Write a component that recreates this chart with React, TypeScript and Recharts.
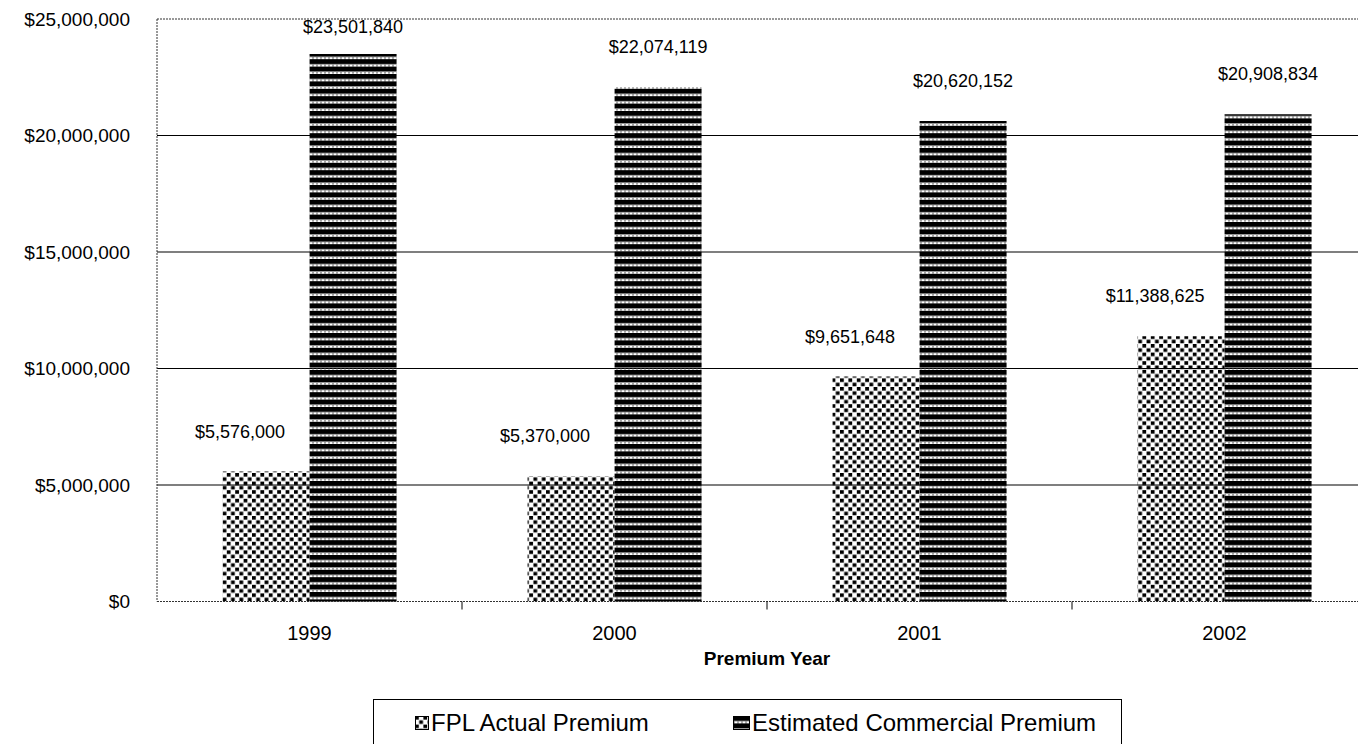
import React from "react";
import {
    BarChart,
    Bar,
    XAxis,
    YAxis,
    Legend,
    LabelList,
    ReferenceLine,
    CartesianGrid
} from "recharts";

const YEARS = ["1999", "2000", "2001", "2002"];
const FPL_ACTUAL = [5576000, 5370000, 9651648, 11388625];
const EST_COMMERCIAL = [23501840, 22074119, 20620152, 20908834];
const Y_TICKS = [0, 5000000, 10000000, 15000000, 20000000, 25000000];
const GRID_VALUES = [5000000, 10000000, 15000000, 20000000];
const Y_MAX = 25000000;

const data = YEARS.map((year, i) => ({
    year,
    fpl: FPL_ACTUAL[i],
    commercial: EST_COMMERCIAL[i]
}));

const FONT = '"Liberation Sans", Arial, Helvetica, sans-serif';
const CHART_W = 1400;
const CHART_H = 760;
const MARGIN = { top: 19, right: 23, bottom: 0, left: 0 };
const Y_AXIS_W = 157;
const PLOT_H = 582.5;
const CAT_W = (CHART_W - MARGIN.left - MARGIN.right - Y_AXIS_W) / YEARS.length;

const money = (v: number) => "$" + v.toLocaleString("en-US");

const YearTick = (props: any) => {
    const { x, y, payload, index } = props;
    return (
        <g>
            {index < YEARS.length - 1 && (
                <line x1={x + CAT_W / 2} x2={x + CAT_W / 2} y1={y - 8} y2={y} stroke="#000" strokeWidth={1} />
            )}
            <text x={x} y={y + 30} textAnchor="middle" fontSize={20} fontFamily={FONT} fill="#000">
                {payload.value}
            </text>
        </g>
    );
};

// labels were dragged around in the original, keep them offset from the bar
const makeLabel = (dx: number, dy: number, minY: number) => (props: any) => {
    const { x, y, width, value } = props;
    return (
        <text
            x={x + width / 2 + dx}
            y={Math.max(y + dy, minY)}
            textAnchor="middle"
            dominantBaseline="central"
            fontSize={18}
            fontFamily={FONT}
            fill="#000"
        >
            {money(value)}
        </text>
    );
};

// only the inner gridlines are solid, the frame is dotted
const gridRows = ({ yAxis, offset }: any) =>
    GRID_VALUES.map(v =>
        yAxis && typeof yAxis.scale === "function"
            ? yAxis.scale(v)
            : offset.top + offset.height * (1 - v / Y_MAX)
    );

const LegendBox = () => (
    <div
        style={{
            border: "1px solid #000",
            height: 60,
            boxSizing: "border-box",
            display: "flex",
            alignItems: "flex-start",
            paddingLeft: 41,
            paddingTop: 9,
            fontFamily: FONT,
            fontSize: 24,
            lineHeight: "28px",
            color: "#000",
            background: "#fff"
        }}
    >
        <div style={{ width: 318, display: "flex", alignItems: "center" }}>
            <svg width={14} height={14} style={{ marginRight: 2 }}>
                <rect x={0.5} y={0.5} width={13} height={13} fill="url(#stipple)" stroke="#000" />
            </svg>
            <span>FPL Actual Premium</span>
        </div>
        <div style={{ display: "flex", alignItems: "center" }}>
            <svg width={17} height={14} style={{ marginRight: 2 }}>
                <rect x={0.5} y={0.5} width={16} height={13} fill="url(#stripes)" stroke="#000" />
            </svg>
            <span>Estimated Commercial Premium</span>
        </div>
    </div>
);

export default function App() {
    return (
        <div style={{ position: "absolute", left: 0, top: 0, width: 1358, height: 744, overflow: "hidden", background: "#fff" }}>
            <BarChart
                width={CHART_W}
                height={CHART_H}
                data={data}
                margin={MARGIN}
                barCategoryGap="21.5%"
                barGap={0}
            >
                <defs>
                    <pattern id="stipple" patternUnits="userSpaceOnUse" width={8.4} height={8.6}>
                        <rect x={0} y={0} width={3.8} height={3.6} fill="#000" />
                        <rect x={4.2} y={4.3} width={3.8} height={3.6} fill="#000" />
                    </pattern>
                    <pattern id="stripes" patternUnits="userSpaceOnUse" width={4} height={7.4}>
                        <rect x={0} y={0} width={4} height={5} fill="#000" />
                        <rect x={0} y={6} width={2} height={0.8} fill="#444" />
                    </pattern>
                </defs>
                <CartesianGrid
                    vertical={false}
                    stroke="#000"
                    strokeWidth={1.2}
                    horizontalCoordinatesGenerator={gridRows}
                />
                <XAxis
                    dataKey="year"
                    height={CHART_H - MARGIN.top - PLOT_H}
                    axisLine={{ stroke: "#333", strokeDasharray: "2 1" }}
                    tickLine={false}
                    tick={<YearTick />}
                    interval={0}
                    label={{
                        value: "Premium Year",
                        position: "insideTop",
                        offset: 50,
                        fontSize: 19,
                        fontWeight: "bold",
                        fontFamily: FONT,
                        fill: "#000"
                    }}
                />
                <YAxis
                    width={Y_AXIS_W}
                    domain={[0, Y_MAX]}
                    ticks={Y_TICKS}
                    tickFormatter={money}
                    axisLine={{ stroke: "#333", strokeDasharray: "2 1" }}
                    tickLine={false}
                    tickMargin={21}
                    tick={{ fontSize: 19, fill: "#000", fontFamily: FONT }}
                />
                <ReferenceLine y={Y_MAX} stroke="#333" strokeDasharray="2 1" />
                <Legend
                    layout="horizontal"
                    verticalAlign="middle"
                    align="center"
                    content={<LegendBox />}
                    wrapperStyle={{ position: "absolute", top: 699, left: 373, width: 749, height: 60 }}
                />
                <Bar dataKey="fpl" name="FPL Actual Premium" fill="url(#stipple)" isAnimationActive={false}>
                    <LabelList dataKey="fpl" content={makeLabel(-26, -40, 0)} />
                </Bar>
                <Bar dataKey="commercial" name="Estimated Commercial Premium" fill="url(#stripes)" isAnimationActive={false}>
                    <LabelList dataKey="commercial" content={makeLabel(0, -40, 27)} />
                </Bar>
            </BarChart>
        </div>
    );
}
